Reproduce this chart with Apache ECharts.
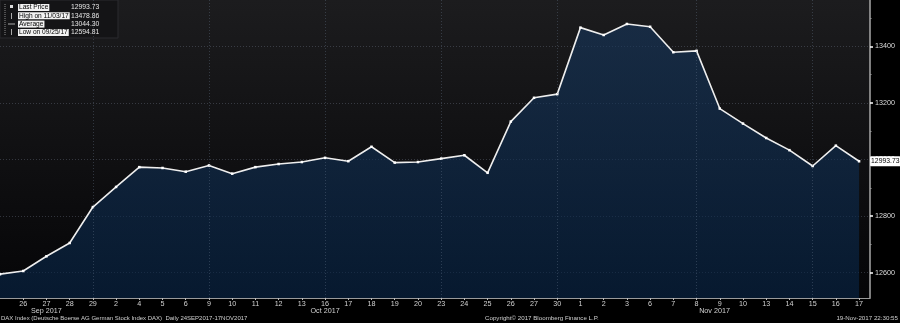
<!DOCTYPE html>
<html>
<head>
<meta charset="utf-8">
<script src="https://cdn.jsdelivr.net/npm/echarts@6/dist/echarts.min.js"></script>
<style>
html,body{margin:0;padding:0;background:#000;}
#c{width:900px;height:323px;}
</style>
</head>
<body>
<div id="c"></div>
<script>
// ---- data ----
const dates = [
  '2017-09-25','2017-09-26','2017-09-27','2017-09-28','2017-09-29',
  '2017-10-02','2017-10-04','2017-10-05','2017-10-06','2017-10-09',
  '2017-10-10','2017-10-11','2017-10-12','2017-10-13','2017-10-16',
  '2017-10-17','2017-10-18','2017-10-19','2017-10-20','2017-10-23',
  '2017-10-24','2017-10-25','2017-10-26','2017-10-27','2017-10-30',
  '2017-11-01','2017-11-02','2017-11-03','2017-11-06','2017-11-07',
  '2017-11-08','2017-11-09','2017-11-10','2017-11-13','2017-11-14',
  '2017-11-15','2017-11-16','2017-11-17'
];
const prices = [
  12594.81, 12606, 12658, 12705, 12832,
  12903, 12973, 12970, 12957, 12979,
  12950, 12973, 12984, 12991, 13006,
  12994, 13045, 12989, 12991, 13003,
  13015, 12953, 13134, 13218, 13231,
  13466, 13440, 13478.86, 13469, 13379,
  13384, 13180, 13127, 13076, 13033,
  12977, 13049, 12993.73
];
const yTickValues = [12600, 12800, 13000, 13200, 13400];
const yMinorTickValues = [12700, 12900, 13100, 13300, 13500];
const monthLabels = ['Sep 2017', 'Oct 2017', 'Nov 2017'];
const monthLabelIndex = [2, 14, 30];
const weekGridIndex = [4, 9, 14, 19, 24, 30, 35];
const legendLabels = ['Last Price', 'High on 11/03/17', 'Average', 'Low on 09/25/17'];
const legendValues = ['12993.73', '13478.86', '13044.30', '12594.81'];
const lastPriceText = '12993.73';
const footerLeft = 'DAX Index (Deutsche Boerse AG German Stock Index DAX)  Daily 24SEP2017-17NOV2017';
const footerMid = 'Copyright\u00A9 2017 Bloomberg Finance L.P.';
const footerRight = '19-Nov-2017 22:30:55';

// ---- chart ----
const FONT = "'Liberation Sans',Arial,sans-serif";
const chart = echarts.init(document.getElementById('c'), null, {renderer: 'canvas'});

const seriesData = prices.map((p, i) => [i, p]);
const X_MAX = dates.length - 1 + 0.47; // small empty margin after the last trading day

const legendGraphics = [];
legendGraphics.push({type:'rect', shape:{x:0,y:0,width:118,height:38}, style:{fill:'#141416', stroke:'#2a2a2e', lineWidth:1}});
legendGraphics.push({type:'line', shape:{x1:5,y1:4,x2:5,y2:35}, style:{stroke:'#8a8a8a', lineWidth:1, lineDash:[1,1]}});
legendGraphics.push({type:'rect', shape:{x:10,y:5,width:3,height:3}, style:{fill:'#ddd'}});
legendGraphics.push({type:'line', shape:{x1:11.5,y1:13,x2:11.5,y2:19}, style:{stroke:'#aaa', lineWidth:1}});
legendGraphics.push({type:'line', shape:{x1:8,y1:24,x2:15,y2:24}, style:{stroke:'#aaa', lineWidth:1}});
legendGraphics.push({type:'line', shape:{x1:11.5,y1:29,x2:11.5,y2:35}, style:{stroke:'#aaa', lineWidth:1}});
legendLabels.forEach((t, i) => {
  const y = 7.5 + i * 8.3;
  legendGraphics.push({type:'text', x:18, y:y, style:{text:t, fill:'#000', backgroundColor:'#f2f2f2', padding:[0,1,0,1], font:'6.6px ' + FONT, verticalAlign:'middle', align:'left'}});
  legendGraphics.push({type:'text', x:71, y:y, style:{text:legendValues[i], fill:'#e6e6e6', font:'6.8px ' + FONT, verticalAlign:'middle', align:'left'}});
});

const gridLineStyle = {color: 'rgba(120,130,150,0.35)', type: [1, 2], width: 1};

const option = {
  backgroundColor: '#000',
  animation: false,
  grid: {
    left: 0, right: 30, top: 0, bottom: 25,
    show: true,
    borderWidth: 0,
    backgroundColor: new echarts.graphic.LinearGradient(0, 0, 0, 1, [
      {offset: 0, color: '#1c1c1e'},
      {offset: 1, color: '#050507'}
    ])
  },
  xAxis: [
    {
      type: 'value',
      min: 0,
      max: X_MAX,
      interval: 1,
      position: 'bottom',
      axisLine: {show: true, onZero: false, lineStyle: {color: '#9a9a9a', width: 1}},
      axisTick: {show: true, length: 2, lineStyle: {color: '#bbbbbb'}},
      axisLabel: {
        showMinLabel: false,
        showMaxLabel: false,
        margin: 3,
        color: '#d2d2d2',
        fontSize: 7.2,
        fontFamily: FONT,
        formatter: (v) => {
          const i = Math.round(v);
          if (Math.abs(v - i) > 1e-6 || i < 1 || i >= dates.length) return '';
          return String(parseInt(dates[i].slice(8), 10));
        }
      },
      splitLine: {show: false}
    },
    {
      type: 'value',
      min: 0,
      max: X_MAX,
      position: 'bottom',
      axisLine: {show: false, onZero: false},
      axisTick: {show: false},
      splitLine: {show: false},
      axisLabel: {
        customValues: monthLabelIndex,
        showMinLabel: true,
        showMaxLabel: true,
        margin: 10,
        color: '#d2d2d2',
        fontSize: 7.2,
        fontFamily: FONT,
        formatter: (v) => {
          const k = monthLabelIndex.indexOf(Math.round(v));
          if (k < 0) return '';
          return k === 2 ? '{n|' + monthLabels[k] + '}' : monthLabels[k];
        },
        rich: {n: {padding: [0, 0, 0, 36], color: '#d2d2d2', fontSize: 7.2, fontFamily: FONT}}
      }
    }
  ],
  yAxis: [
    {
      type: 'value',
      position: 'right',
      min: 12510.6,
      max: 13563.6,
      axisLine: {show: true, onZero: false, lineStyle: {color: '#a8a8a8', width: 1.5}},
      axisTick: {show: true, customValues: yTickValues, length: 3, inside: false, lineStyle: {color: '#ffffff', width: 1.5}},
      axisLabel: {customValues: yTickValues, margin: 5, color: '#dcdcdc', fontSize: 7.2, fontFamily: FONT, formatter: (v) => String(v)},
      splitLine: {show: true, lineStyle: gridLineStyle}
    },
    {
      type: 'value',
      position: 'right',
      offset: 0,
      min: 12510.6,
      max: 13563.6,
      axisLine: {show: false, onZero: false},
      axisTick: {show: true, customValues: yMinorTickValues, length: 1.5, inside: false, lineStyle: {color: '#999', width: 1}},
      axisLabel: {show: false},
      splitLine: {show: false}
    }
  ],
  graphic: legendGraphics.concat([
    {type:'text', left: 1, top: 315, style:{text: footerLeft, fill:'#cfcfcf', font:'6px ' + FONT}},
    {type:'text', left: 485, top: 315, style:{text: footerMid, fill:'#cfcfcf', font:'6.2px ' + FONT}},
    {type:'text', right: 2, top: 315, style:{text: footerRight, fill:'#cfcfcf', font:'6.2px ' + FONT}}
  ]),
  series: [
    {
      type: 'line',
      data: seriesData,
      xAxisIndex: 0,
      yAxisIndex: 0,
      symbol: 'rect',
      symbolSize: 2.5,
      showSymbol: true,
      lineStyle: {color: '#eeeeee', width: 1.6},
      itemStyle: {color: '#ffffff'},
      areaStyle: {
        origin: 'start',
        color: new echarts.graphic.LinearGradient(0, 0, 0, 1, [
          {offset: 0, color: 'rgba(22,54,92,0.88)'},
          {offset: 1, color: 'rgba(8,38,72,0.88)'}
        ])
      },
      markLine: {
        silent: true,
        symbol: 'none',
        label: {show: false},
        lineStyle: {color: 'rgba(110,125,150,0.35)', type: [1, 2], width: 1},
        data: weekGridIndex.map((i) => ({xAxis: i}))
      },
      endLabel: {
        show: true,
        formatter: () => lastPriceText,
        distance: 11,
        backgroundColor: '#ffffff',
        color: '#000',
        fontSize: 6.8,
        fontFamily: FONT,
        padding: [2, 1, 1, 1],
        borderRadius: 1
      },
      z: 3
    }
  ]
};
chart.setOption(option);
</script>
</body>
</html>
